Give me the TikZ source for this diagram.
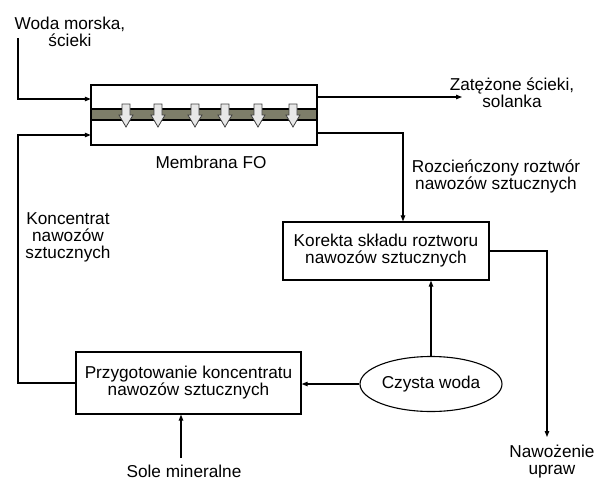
\documentclass[tikz,border=0pt]{standalone}
\usepackage{fontspec}
\setmainfont{Liberation Sans}
\usetikzlibrary{arrows.meta,shapes.geometric}
\definecolor{bandcol}{RGB}{125,125,105}
\definecolor{flowfill}{RGB}{232,232,232}
\begin{document}
\begin{tikzpicture}[x=1pt,y=-1pt,
  every node/.style={font=\fontsize{17.2}{17}\selectfont, align=center, inner sep=0pt},
  box/.style={draw, line width=1.3pt},
  conn/.style={line width=1.1pt, -{Triangle[length=6pt,width=4.5pt]}},
  flowarrow/.style={fill=flowfill, draw=black!75, line width=0.8pt}]
\useasboundingbox (0,0) rectangle (598,480);

% membrane module
\node[minimum width=226pt, minimum height=60pt] (mem) at (204,115) {};
\fill[bandcol] (91,109) rectangle (317,120);
\draw[line width=1.8pt] (91,109) -- (317,109) (91,120) -- (317,120);
\foreach \cx in {126,158,195,225,258,293}
  \draw[flowarrow] (\cx-4,104) -- (\cx+4,104) -- (\cx+4,115) -- (\cx+7,115)
     -- (\cx,127) -- (\cx-7,115) -- (\cx-4,115) -- cycle;
\draw[line width=2pt] (mem.north west) rectangle (mem.south east);

% texts
\node (woda) at (70,31.5) {Woda morska,\\ścieki};
\node (zat) at (512,93) {Zatężone ścieki,\\solanka};
\node (memlbl) at (211,162) {Membrana FO};
\node (rozc) at (496,176) {Rozcieńczony roztwór\\nawozów sztucznych};
\node (konc) at (68,237) {Koncentrat\\nawozów\\sztucznych};
\node (sole) at (184,471.5) {Sole mineralne};
\node (naw) at (552,462) {Nawożenie\\upraw};

% boxes
\node[box, minimum width=206pt, minimum height=58pt] (kor) at (386,251)
  {Korekta składu roztworu\\nawozów sztucznych};
\node[box, minimum width=225pt, minimum height=62pt] (prz) at (188.5,383)
  {Przygotowanie koncentratu\\nawozów sztucznych};
\node[draw, ellipse, line width=1.1pt, minimum width=142pt, minimum height=55pt] (cz) at (431,384)
  {Czysta woda};

% free ends
\coordinate (wodaend) at (18,38);
\coordinate (kleft) at (18,135);
\coordinate (zatend) at (462,97);
\coordinate (nawtip) at (547,437);
\coordinate (solestart) at (181,458);

% connectors
\draw[conn] (wodaend) |- (mem.west |- 0,99);
\draw[conn] (prz.west) -| (kleft) -- (mem.west |- kleft);
\draw[conn] (mem.east |- zatend) -- (zatend);
\draw[conn] (mem.east |- 0,133) -| (kor.north -| 403,0);
\draw[conn] (kor.east) -| (nawtip);
\draw[conn] (cz.north) -- (kor.south -| cz.north);
\draw[conn] (cz.west) -- (cz.west -| prz.east);
\draw[conn] (solestart) -- (solestart |- prz.south);
\end{tikzpicture}
\end{document}
